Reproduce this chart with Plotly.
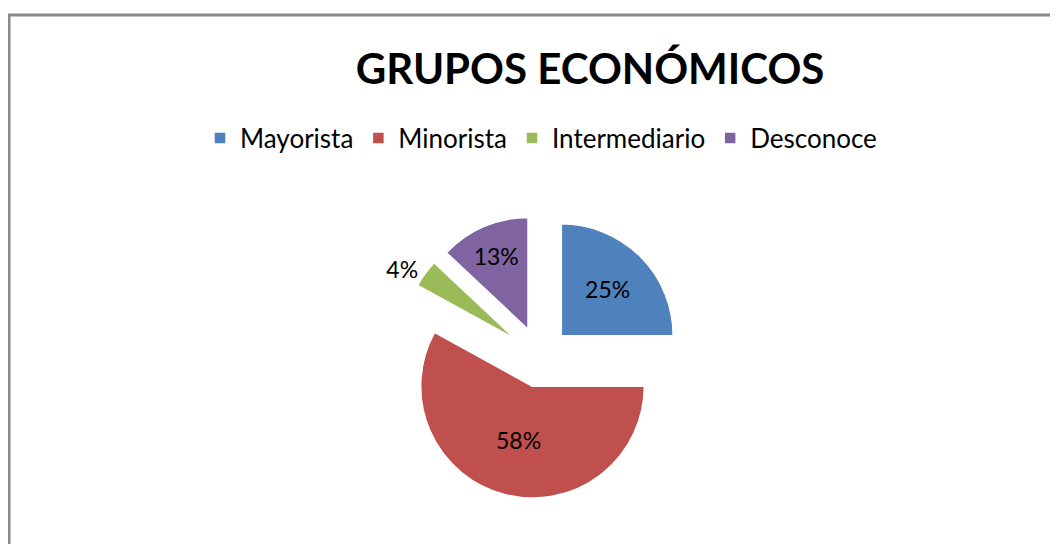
import plotly.graph_objects as go

categories = ["Mayorista", "Minorista", "Intermediario", "Desconoce"]
values = [25, 58, 4, 13]
colors = ["#4F81BD", "#C0504D", "#9BBB59", "#8064A2"]
text_positions = ["inside", "inside", "outside", "inside"]

W, H = 1058, 544
cx, cy = 532, 349
half = 142

fig = go.Figure(go.Pie(
    labels=categories,
    values=values,
    sort=False,
    direction="clockwise",
    rotation=0,
    pull=[0.27] * len(values),
    marker=dict(colors=colors, line=dict(color="white", width=1.5)),
    textinfo="percent",
    texttemplate="%{percent:.0%}",
    textposition=text_positions,
    insidetextorientation="horizontal",
    textfont=dict(family="Lato", size=23, color="black"),
    hoverinfo="label+percent",
    domain=dict(x=[(cx - half) / W, (cx + half) / W], y=[(H - cy - half) / H, (H - cy + half) / H]),
))

fig.update_layout(
    width=W, height=H,
    margin=dict(l=0, r=0, t=0, b=0, autoexpand=False),
    paper_bgcolor="white",
    font=dict(family="Lato", color="black"),
    title=dict(text="<b>GRUPOS ECONÓMICOS</b>", x=582 / W, y=1 - 61 / H,
               xanchor="center", yanchor="middle",
               font=dict(family="Lato", size=42, color="black")),
    legend=dict(orientation="h", x=533 / W, y=1 - 130 / H, xanchor="center", yanchor="middle",
                font=dict(family="Lato", size=26, color="black"),
                traceorder="normal"),
    shapes=[dict(type="rect", xref="paper", yref="paper",
                 x0=1 / W, x1=1.05, y0=-0.05, y1=1 - 7 / H,
                 line=dict(color="#8A8A8A", width=3), fillcolor="rgba(0,0,0,0)")],
)

fig.write_html("out.html")
